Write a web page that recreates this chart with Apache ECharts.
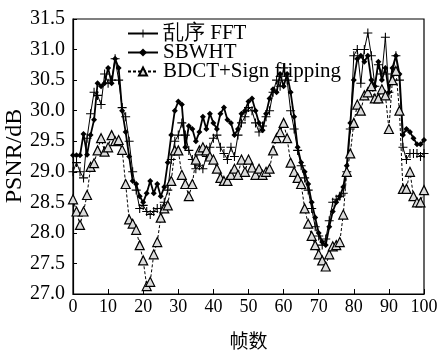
<!DOCTYPE html>
<html>
<head>
<meta charset="utf-8">
<script src="https://cdn.jsdelivr.net/npm/echarts@6/dist/echarts.min.js"></script>
<style>html,body{margin:0;padding:0;background:#fff;}#c{width:442px;height:351px;}</style>
</head>
<body>
<div id="c"></div>
<script>
const frames = [0,1,2,3,4,5,6,7,8,9,10,11,12,13,14,15,16,17,18,19,20,21,22,23,24,25,26,27,28,29,30,31,32,33,34,35,36,37,38,39,40,41,42,43,44,45,46,47,48,49,50,51,52,53,54,55,56,57,58,59,60,61,62,63,64,65,66,67,68,69,70,71,72,73,74,75,76,77,78,79,80,81,82,83,84,85,86,87,88,89,90,91,92,93,94,95,96,97,98,99,100];
const seriesNames = ['乱序 FFT', 'SBWHT', 'BDCT+Sign flipping'];
const yAxisTitle = 'PSNR/dB';
const xAxisTitle = '帧数';
const fftValues = [
  29.0,29.15,29.0,28.9,29.55,29.95,30.3,30.25,30.1,30.6,
  30.45,30.5,30.85,30.5,30.05,29.9,29.5,29.0,28.7,28.4,
  28.45,28.35,28.3,28.35,28.4,28.4,28.5,28.7,29.2,29.5,
  29.6,29.8,29.6,29.35,29.2,29.05,29.1,29.05,29.25,29.4,
  29.55,29.6,29.4,29.3,29.2,29.4,29.25,29.6,29.8,29.9,
  30.05,30.0,29.8,29.65,29.75,29.9,30.0,30.3,30.5,30.4,
  30.7,30.5,30.0,29.7,29.35,29.1,28.9,28.7,28.4,28.1,
  27.95,27.8,27.9,28.2,28.5,28.55,28.6,28.65,29.0,29.7,
  30.9,31.0,30.45,31.0,31.27,30.9,30.4,30.75,30.6,31.2,
  30.3,30.6,30.9,30.5,29.4,29.2,29.3,29.3,29.3,29.25,
  29.3];
const sbwhtValues = [
  29.27,29.27,29.27,29.62,29.28,29.6,29.85,30.45,30.4,30.45,
  30.7,30.45,30.85,30.7,30.0,29.65,29.25,28.85,28.8,28.6,
  28.5,28.65,28.85,28.65,28.8,28.6,28.75,29.15,29.6,30.0,
  30.15,30.1,29.4,29.75,29.7,29.5,29.65,29.9,29.7,29.95,
  29.8,29.7,29.95,30.05,29.85,29.8,29.6,29.7,29.95,30.0,
  30.15,30.2,30.0,29.8,29.68,29.95,30.2,30.35,30.3,30.6,
  30.4,30.6,30.3,29.9,29.4,29.15,29.0,28.8,28.5,28.25,
  28.0,27.85,27.8,28.1,28.35,28.5,28.6,28.75,29.1,29.8,
  30.5,30.85,30.9,30.8,30.9,30.5,30.4,30.8,30.5,30.7,
  30.3,30.7,30.9,30.6,29.6,29.7,29.65,29.55,29.45,29.45,
  29.52];
const bdctValues = [
  28.55,28.35,28.13,28.35,28.62,29.08,29.14,29.35,29.55,29.33,
  29.4,29.6,29.5,29.52,29.36,28.8,28.22,28.15,28.05,27.8,
  27.55,27.13,27.2,27.65,27.85,28.25,28.4,28.45,28.85,29.35,
  29.35,28.95,28.8,28.6,28.8,29.2,29.35,29.4,29.35,29.25,
  29.2,29.05,28.9,28.85,28.85,28.95,29.05,28.95,29.2,29.0,
  29.2,29.07,28.95,29.05,28.95,29.0,29.05,29.35,29.55,29.65,
  29.8,29.55,29.15,29.0,28.9,28.8,28.4,28.15,27.95,27.8,
  27.65,27.55,27.45,27.65,27.78,27.8,27.85,28.3,29.0,29.3,
  29.8,30.1,30.0,30.25,30.3,30.4,30.2,30.2,30.35,30.25,
  29.7,30.5,30.65,30.0,28.72,28.72,29.0,28.6,28.5,28.5,
  28.7];
const xTicks = { min: 0, max: 100, interval: 10 };
const yTicks = { min: 27.0, max: 31.5, interval: 0.5 };

const pair = (vals) => frames.map((f, i) => [f, vals[i]]);
const serif = 'Liberation Serif';
const plusPath = 'path://M4.4,0H5.6V4.4H10V5.6H5.6V10H4.4V5.6H0V4.4H4.4Z';

const chart = echarts.init(document.getElementById('c'), null, { renderer: 'canvas' });
chart.setOption({
  animation: false,
  backgroundColor: '#fff',
  grid: { left: 73, right: 18, top: 19, bottom: 57, containLabel: false, outerBoundsMode: 'none', show: true, borderColor: '#000', borderWidth: 1.2, backgroundColor: 'transparent' },
  graphic: [{
    type: 'text', x: 15, y: 156, rotation: Math.PI / 2,
    style: { text: yAxisTitle, fontFamily: serif, fontSize: 24, fill: '#000', align: 'center', verticalAlign: 'middle' }
  }],
  legend: {
    data: seriesNames,
    orient: 'vertical',
    left: 127,
    top: 23,
    padding: 0,
    itemWidth: 30,
    itemHeight: 10,
    itemGap: -2,
    textStyle: { fontFamily: serif, fontSize: 21, color: '#000', lineHeight: 18 }
  },
  xAxis: {
    type: 'value', min: xTicks.min, max: xTicks.max, interval: xTicks.interval,
    name: xAxisTitle, nameLocation: 'middle', nameGap: 37,
    nameTextStyle: { fontFamily: 'Noto Sans CJK SC', fontSize: 19, color: '#000' },
    axisLine: { lineStyle: { color: '#000', width: 1.2 } },
    axisTick: { inside: true, length: 5, lineStyle: { color: '#000' } },
    axisLabel: { fontFamily: serif, fontSize: 18, color: '#000', margin: 4 },
    splitLine: { show: false }
  },
  yAxis: {
    type: 'value', min: yTicks.min, max: yTicks.max, interval: yTicks.interval,
    axisLine: { lineStyle: { color: '#000', width: 1.2 } },
    axisTick: { inside: true, length: 4, lineStyle: { color: '#000' } },
    axisLabel: { fontFamily: serif, fontSize: 20, color: '#000', margin: 8, formatter: v => v.toFixed(1) },
    splitLine: { show: false }
  },
  series: [
    {
      name: seriesNames[0], type: 'line', data: pair(fftValues),
      symbol: plusPath, symbolSize: 9, showAllSymbol: true,
      lineStyle: { color: '#000', width: 1 },
      itemStyle: { color: '#000' }
    },
    {
      name: seriesNames[1], type: 'line', data: pair(sbwhtValues),
      symbol: 'diamond', symbolSize: 6, showAllSymbol: true,
      lineStyle: { color: '#000', width: 1.8 },
      itemStyle: { color: '#000' }
    },
    {
      name: seriesNames[2], type: 'line', data: pair(bdctValues),
      symbol: 'triangle', symbolSize: 9, showAllSymbol: true,
      lineStyle: { color: '#000', width: 1, type: [3, 2] },
      itemStyle: { color: '#dcdcdc', borderColor: '#000', borderWidth: 1.2 }
    }
  ]
});
</script>
</body>
</html>
